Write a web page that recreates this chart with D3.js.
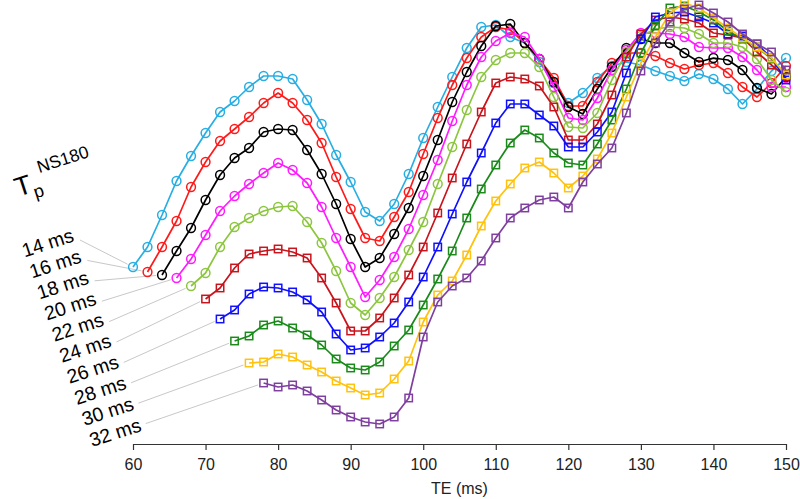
<!DOCTYPE html>
<html>
<head>
<meta charset="utf-8">
<script src="https://cdn.jsdelivr.net/npm/d3@7/dist/d3.min.js"></script>
<style>
  html, body { margin: 0; padding: 0; background: #fff; }
  svg { display: block; font-family: "Liberation Sans", Arial, Helvetica, sans-serif; }
</style>
</head>
<body>
<svg id="chart" width="800" height="499"></svg>
<script>
// ---------------- DATA ----------------
const seriesLabels = ["14 ms","16 ms","18 ms","20 ms","22 ms","24 ms","26 ms","28 ms","30 ms","32 ms"];
const seriesStartTE = [60, 62, 64, 66, 68, 70, 72, 74, 76, 78];
const teStep = 2;
const xTicks = [60, 70, 80, 90, 100, 110, 120, 130, 140, 150];
const colors = ["#27aee3", "#ff1a1a", "#000000", "#ff1aff", "#8cc63f", "#c8141c", "#1010ff", "#1a8a1a", "#ffc20e", "#7f3f9f"];
const markers = ["circle","circle","circle","circle","circle","square","square","square","square","square"];

// signal (arbitrary units), one value every 2 ms of TE starting at seriesStartTE
const s14 = [183,203,235,269,294,317,338,349,363,374,374,371,350,326,295,268,238,229,246,276,312,343,373,402,423,425,413,407,388,367,347,357,372,384,388,385,379,374,369,376,371,361,346,361,379,392];
const s16 = [178,203,229,263,288,309,321,333,347,357,347,330,307,273,241,212,209,233,258,296,332,365,392,413,423,420,407,391,372,344,344,368,387,397,397,394,387,381,385,387,377,363,353,367,384];
const s18 = [175,199,222,250,275,292,302,318,321,320,300,276,246,211,183,192,216,242,274,310,348,378,404,424,426,407,391,368,343,336,361,383,402,411,407,407,397,388,392,390,380,362,356,373];
const s20 = [172,191,215,239,254,266,277,287,280,267,243,212,183,153,170,193,221,255,290,329,365,393,409,417,413,391,363,332,330,352,380,400,417,417,416,413,403,402,402,393,380,363,363];
const s22 = [164,177,203,223,232,239,243,244,228,207,179,147,135,152,173,200,228,266,303,340,373,390,397,397,383,353,323,322,337,370,398,414,421,423,422,416,407,407,403,391,370,358];
const s24 = [151,162,182,196,199,201,198,192,172,147,119,119,132,152,175,203,237,272,306,338,367,373,371,364,343,310,310,326,355,393,416,430,433,431,427,417,415,412,398,385,373];
const s26 = [131,140,156,163,162,158,150,138,116,100,102,113,127,148,173,203,236,268,297,327,346,346,335,324,303,303,318,338,377,411,433,437,438,433,427,416,414,406,392,370];
const s28 = [109,114,125,129,122,115,105,91,82,80,88,104,120,145,171,199,232,261,285,307,320,312,297,287,285,306,330,361,397,424,442,444,438,430,419,411,403,391,375];
const s30 = [87,88,96,93,85,78,69,62,55,57,71,89,128,155,169,195,224,249,266,282,288,277,262,274,291,317,353,387,413,437,447,442,432,422,412,403,392,375];
const s32 = [67,63,65,59,50,40,33,28,26,33,52,113,148,164,172,189,212,232,242,250,253,242,268,286,302,337,379,407,428,441,445,437,428,416,406,398,380];
const seriesValues = [s14, s16, s18, s20, s22, s24, s26, s28, s30, s32];

// ---------------- CHART ----------------
const svg = d3.select("#chart");
const x = d3.scaleLinear().domain([60, 150]).range([133, 786]);
const y = d3.scaleLinear().domain([0, 450]).range([450, 0]);
const axisY = 444;

const series = seriesValues.map((vals, i) => ({
  label: seriesLabels[i],
  color: colors[i],
  marker: markers[i],
  points: vals.map((v, j) => ({ te: seriesStartTE[i] + j * teStep, v }))
}));

const line = d3.line().x(d => x(d.te)).y(d => y(d.v));

// leader lines + labels
const labelG = svg.append("g");
series.forEach((s, i) => {
  const sx = 80 + i * 7.3, sy = 240 + i * 20.4;
  const p0 = s.points[0];
  const px = x(p0.te), py = y(p0.v);
  const dx = px - sx, dy = py - sy, len = Math.hypot(dx, dy);
  const ex = px - dx / len * 6, ey = py - dy / len * 6;
  labelG.append("line")
    .attr("x1", sx).attr("y1", sy).attr("x2", ex).attr("y2", ey)
    .attr("stroke", "#c8c8c8").attr("stroke-width", 1);
  labelG.append("text")
    .attr("transform", `translate(${sx - 5 + 0.2 * i},${sy + 1 + 0.67 * i}) rotate(-18)`)
    .attr("text-anchor", "end")
    .attr("font-size", 19.5)
    .attr("fill", "#000")
    .text(s.label);
});

// title label T_p^NS180
const tl = svg.append("text")
  .attr("transform", "translate(18,197) rotate(-18)")
  .attr("fill", "#000");
tl.append("tspan").attr("font-size", 27).text("T");
tl.append("tspan").attr("font-size", 18).attr("dy", 7).text("p");
tl.append("tspan").attr("font-size", 17.5).attr("dy", -23).attr("dx", 1).text("NS180");

// series lines and markers
const plotG = svg.append("g");
series.forEach(s => {
  const g = plotG.append("g");
  g.append("path")
    .datum(s.points)
    .attr("d", line)
    .attr("fill", "none")
    .attr("stroke", s.color)
    .attr("stroke-width", 1.7)
    .attr("stroke-linejoin", "round");
  if (s.marker === "circle") {
    g.selectAll("circle").data(s.points).join("circle")
      .attr("cx", d => x(d.te)).attr("cy", d => y(d.v)).attr("r", 4.4)
      .attr("fill", "none").attr("stroke", s.color).attr("stroke-width", 1.5);
  } else {
    const sz = 7.4;
    g.selectAll("rect").data(s.points).join("rect")
      .attr("x", d => x(d.te) - sz / 2).attr("y", d => y(d.v) - sz / 2)
      .attr("width", sz).attr("height", sz)
      .attr("fill", "none").attr("stroke", s.color).attr("stroke-width", 1.5);
  }
});

// x axis
const xAxis = d3.axisBottom(x).tickValues(xTicks).tickSize(6).tickSizeOuter(0).tickPadding(9);
const ax = svg.append("g").attr("transform", `translate(0,${axisY})`).call(xAxis);
ax.select(".domain").attr("stroke", "#333").attr("stroke-width", 1.2);
ax.selectAll(".tick line").attr("stroke", "#333").attr("stroke-width", 1.2);
ax.selectAll(".tick text").attr("font-size", 16).attr("fill", "#222")
  .attr("font-family", "'Liberation Sans', Arial, sans-serif");

svg.append("text")
  .attr("x", (x(60) + x(150)) / 2).attr("y", 494)
  .attr("text-anchor", "middle").attr("font-size", 16).attr("fill", "#222")
  .text("TE (ms)");
</script>
</body>
</html>
